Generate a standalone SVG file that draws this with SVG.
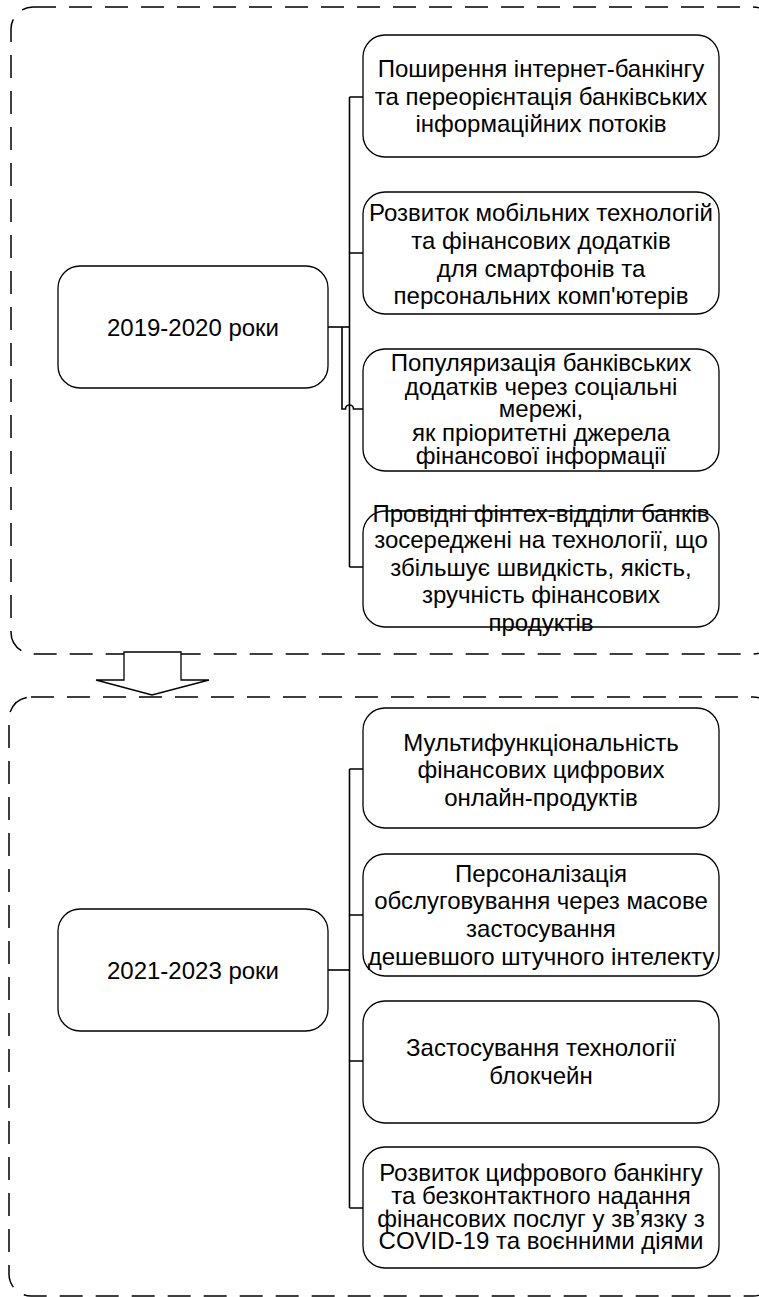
<svg xmlns="http://www.w3.org/2000/svg" width="759" height="1297" viewBox="0 0 759 1297">
<style>
.frame{fill:none;stroke:#000;stroke-width:1.5;stroke-dasharray:23 13}
.box{fill:#fff;stroke:#000;stroke-width:1.3}
.conn{fill:none;stroke:#000;stroke-width:1.6}
.t{font-family:"Liberation Sans",Arial,sans-serif;font-size:24px;fill:#000;text-anchor:middle}
</style>
<rect width="759" height="1297" fill="#fff"/>
<g id="frame-2019-2020"><rect class="frame" x="11" y="7" width="764" height="647" rx="22"/></g>
<g id="frame-2021-2023"><rect class="frame" x="9" y="697" width="766" height="599" rx="22"/></g>
<g id="transition-arrow"><polygon points="124,652 181,652 181,680 209,680 152,695 96,680 124,680" fill="#fff" stroke="#000" stroke-width="1.3"/></g>
<g id="connectors">
<path class="conn" d="M349.5,97 V567 M349.5,97 H363 M349.5,253 H363 M349.5,567 H363"/>
<path class="conn" d="M328,327 H349.5" stroke-width="2.2"/>
<path class="conn" d="M342,327 V409 H345.5 A4,4 0 0 1 353.5,409 H363"/>
<path class="conn" d="M349.5,769 V1208 M349.5,769 H363 M349.5,915 H363 M349.5,1061 H363 M349.5,1208 H363"/>
<path class="conn" d="M328,970 H349.5" stroke-width="2.2"/>
</g>
<g id="node-2019-2020"><rect class="box" x="58" y="266" width="270" height="122" rx="22"/><text class="t" x="193" y="336">2019-2020 роки</text></g>
<g id="node-internet-banking"><rect class="box" x="363" y="35" width="356" height="122" rx="22"/>
<text class="t" x="541" y="77">Поширення інтернет-банкінгу</text>
<text class="t" x="541" y="105">та переорієнтація банківських</text>
<text class="t" x="541" y="132">інформаційних потоків</text></g>
<g id="node-mobile"><rect class="box" x="363" y="192" width="356" height="122" rx="22"/>
<text class="t" x="541" y="221">Розвиток мобільних технологій</text>
<text class="t" x="541" y="249">та фінансових додатків</text>
<text class="t" x="541" y="277">для смартфонів та</text>
<text class="t" x="541" y="304">персональних комп'ютерів</text></g>
<g id="node-social"><rect class="box" x="363" y="349" width="356" height="122" rx="22"/>
<text class="t" x="541" y="371">Популяризація банківських</text>
<text class="t" x="541" y="395">додатків через соціальні</text>
<text class="t" x="541" y="417">мережі,</text>
<text class="t" x="541" y="441">як пріоритетні джерела</text>
<text class="t" x="541" y="464">фінансової інформації</text></g>
<g id="node-fintech"><rect class="box" x="363" y="511" width="356" height="116" rx="22"/>
<text class="t" x="541" y="522">Провідні фінтех-відділи банків</text>
<text class="t" x="541" y="548">зосереджені на технології, що</text>
<text class="t" x="541" y="576">збільшує швидкість, якість,</text>
<text class="t" x="541" y="603">зручність фінансових</text>
<text class="t" x="541" y="631">продуктів</text></g>
<g id="node-2021-2023"><rect class="box" x="58" y="909" width="270" height="122" rx="22"/><text class="t" x="193" y="979">2021-2023 роки</text></g>
<g id="node-multifunction"><rect class="box" x="363" y="708" width="356" height="120" rx="22"/>
<text class="t" x="541" y="751">Мультифункціональність</text>
<text class="t" x="541" y="778">фінансових цифрових</text>
<text class="t" x="541" y="806">онлайн-продуктів</text></g>
<g id="node-personalization"><rect class="box" x="363" y="854" width="356" height="122" rx="22"/>
<text class="t" x="541" y="882">Персоналізація</text>
<text class="t" x="541" y="909">обслуговування через масове</text>
<text class="t" x="541" y="937">застосування</text>
<text class="t" x="541" y="965">дешевшого штучного інтелекту</text></g>
<g id="node-blockchain"><rect class="box" x="363" y="1001" width="356" height="122" rx="22"/>
<text class="t" x="541" y="1056">Застосування технології</text>
<text class="t" x="541" y="1084">блокчейн</text></g>
<g id="node-digital"><rect class="box" x="363" y="1147" width="356" height="121" rx="22"/>
<text class="t" x="541" y="1181">Розвиток цифрового банкінгу</text>
<text class="t" x="541" y="1204">та безконтактного надання</text>
<text class="t" x="541" y="1227">фінансових послуг у зв’язку з</text>
<text class="t" x="541" y="1249">COVID-19 та воєнними діями</text></g>
</svg>
